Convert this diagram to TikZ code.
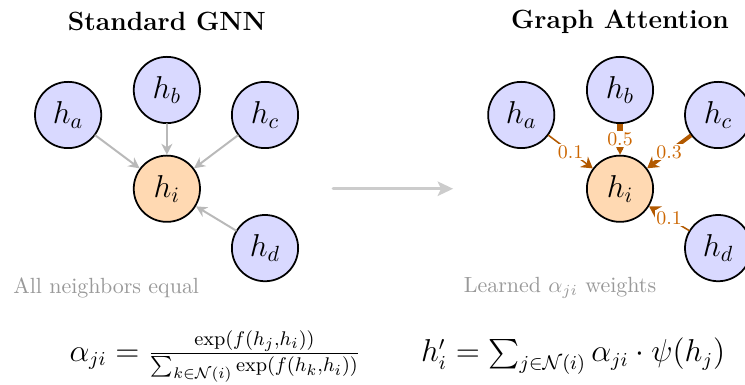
\documentclass[tikz,border=0pt]{standalone}
\usepackage{amsmath,amssymb}
\usepackage{tikz}
\usetikzlibrary{arrows.meta}

\begin{document}
\begin{tikzpicture}[line cap=round,
    nbr/.style={circle, draw, thick, fill=blue!15, minimum size=1.06cm, inner sep=0pt, font=\Large},
    ctr/.style={nbr, fill=orange!30},
    plain/.style={-{Stealth[length=5pt,width=5pt]}, gray!55, line width=0.9pt},
    att/.style={-{Stealth[length=5pt,width=6pt]}, draw=orange!70!black},
    wt/.style={font=\fontsize{8.8}{10}\selectfont, text=orange!80!black, fill=white, inner sep=0.6pt},
    eqn/.style={font=\fontsize{13.4}{16}\selectfont}]
  \useasboundingbox (0,0) rectangle (11.92,6.16);

  % ---------------- standard GNN (left) ----------------
  \node[font=\large\bfseries] (titleL) at (2.67,5.81) {Standard GNN};
  \node[ctr] (iL) at (2.67,3.14) {$h_i$};
  \foreach \n/\x/\y in {a/1.09/4.32, b/2.67/4.72, c/4.24/4.32, d/4.24/2.19}{
    \node[nbr] (\n L) at (\x,\y) {$h_\n$};
    \draw[plain] (\n L) -- (iL);
  }
  \node[text=gray!80] (capL) at (1.70,1.55) {All neighbors equal};

  % ---------------- middle arrow ----------------
  \coordinate (mA) at (5.33,3.14);
  \coordinate (mB) at (7.25,3.14);
  \draw[-{Stealth[length=7pt,width=6.5pt,inset=1.5pt]}, gray!40, line width=1.4pt] (mA) -- (mB);

  % ---------------- graph attention (right) ----------------
  \node[font=\large\bfseries] (titleR) at (9.92,5.81) {Graph Attention};
  \node[ctr] (iR) at (9.92,3.14) {$h_i$};
  \node[nbr] (aR) at (8.34,4.32) {$h_a$};
  \node[nbr] (bR) at (9.92,4.72) {$h_b$};
  \node[nbr] (cR) at (11.49,4.32) {$h_c$};
  \node[nbr] (dR) at (11.49,2.19) {$h_d$};
  \draw[att, line width=0.7pt] (aR) -- node[wt] {0.1} (iR);
  \draw[att, line width=3pt, -{Stealth[length=3.5pt,width=3.5pt]}, line cap=butt] (bR) -- node[wt] {0.5} (iR);
  \draw[att, line width=1.8pt, line cap=butt] (cR) -- node[wt] {0.3} (iR);
  \draw[att, line width=0.7pt] (dR) -- node[wt] {0.1} (iR);
  \node[text=gray!80] (capR) at (8.96,1.55) {Learned $\alpha_{ji}$ weights};

  % ---------------- formulas ----------------
  \node[eqn] (fL) at (3.44,0.46)
    {$\alpha_{ji} = \frac{\exp(f(h_j,h_i))}{\sum_{k\in\mathcal{N}(i)} \exp(f(h_k,h_i))}$};
  \node[eqn] (fR) at (9.17,0.46)
    {$h_i' = \sum_{j\in\mathcal{N}(i)} \alpha_{ji}\cdot\psi(h_j)$};
\end{tikzpicture}
\end{document}
